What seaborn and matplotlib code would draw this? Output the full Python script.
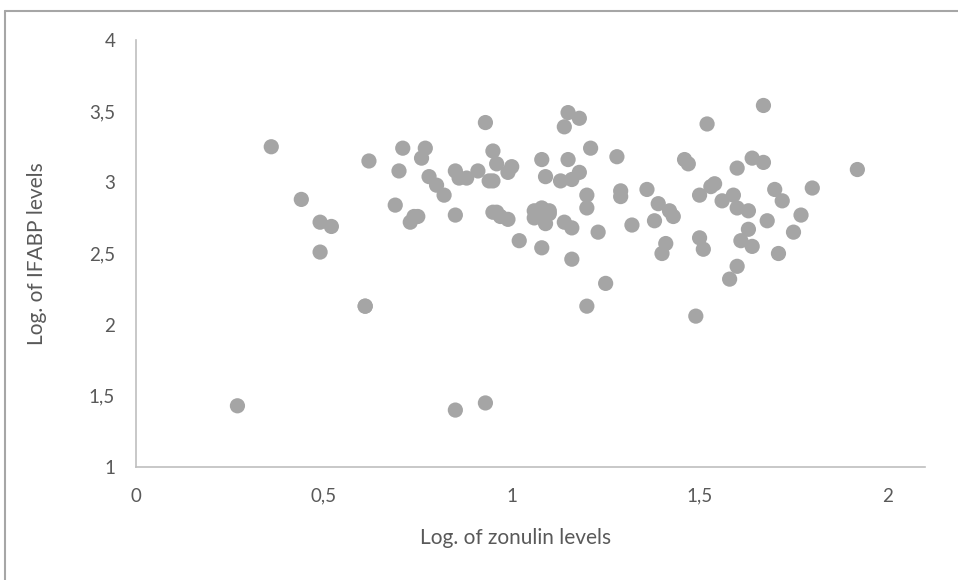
import matplotlib.pyplot as plt
import matplotlib.ticker as mticker
from matplotlib.lines import Line2D
import pandas as pd
import seaborn as sns

# data
zonulin = [
    0.27, 0.36, 0.44, 0.49, 0.49, 0.52, 0.61, 0.62, 0.69, 0.70,
    0.71, 0.73, 0.75, 0.76, 0.77, 0.78, 0.80, 0.82, 0.85, 0.85,
    0.86, 0.88, 0.91, 0.93, 0.94, 0.95, 0.96, 0.96, 0.95, 0.99,
    1.00, 0.95, 0.97, 0.99, 1.02, 1.06, 1.08, 1.07, 1.10, 1.09,
    1.10, 1.06, 1.08, 1.08, 1.09, 1.14, 1.16, 1.16, 1.25, 1.08,
    1.15, 1.18, 1.14, 1.15, 1.21, 1.28, 1.13, 1.16, 1.18, 1.20,
    1.20, 1.20, 1.29, 1.29, 1.32, 1.23, 1.36, 1.38, 1.39, 1.42,
    1.43, 1.41, 1.40, 1.46, 1.47, 1.49, 1.50, 1.51, 1.50, 1.52,
    1.53, 1.54, 1.56, 1.59, 1.60, 1.60, 1.60, 1.61, 1.58, 1.63,
    1.63, 1.64, 1.64, 1.67, 1.67, 1.68, 1.70, 1.72, 1.71, 1.75,
    1.77, 1.80, 1.92, 0.85, 0.93, 0.61, 0.74,
]
ifabp = [
    1.43, 3.25, 2.88, 2.72, 2.51, 2.69, 2.13, 3.15, 2.84, 3.08,
    3.24, 2.72, 2.76, 3.17, 3.24, 3.04, 2.98, 2.91, 3.08, 2.77,
    3.03, 3.03, 3.08, 3.42, 3.01, 3.22, 3.13, 2.79, 2.79, 2.74,
    3.11, 3.01, 2.76, 3.07, 2.59, 2.80, 2.82, 2.76, 2.78, 2.71,
    2.80, 2.75, 2.78, 3.16, 3.04, 2.72, 2.68, 2.46, 2.29, 2.54,
    3.49, 3.45, 3.39, 3.16, 3.24, 3.18, 3.01, 3.02, 3.07, 2.91,
    2.82, 2.13, 2.94, 2.90, 2.70, 2.65, 2.95, 2.73, 2.85, 2.80,
    2.76, 2.57, 2.50, 3.16, 3.13, 2.06, 2.91, 2.53, 2.61, 3.41,
    2.97, 2.99, 2.87, 2.91, 3.10, 2.82, 2.41, 2.59, 2.32, 2.80,
    2.67, 3.17, 2.55, 3.14, 3.54, 2.73, 2.95, 2.87, 2.50, 2.65,
    2.77, 2.96, 3.09, 1.40, 1.45, 2.13, 2.76,
]

df = pd.DataFrame({'zonulin': zonulin, 'ifabp': ifabp})

sns.set_style('white')
plt.rcParams['font.family'] = ['Lato', 'DejaVu Sans']

fig = plt.figure(figsize=(9.58, 5.8), dpi=100)
ax = fig.add_axes([136 / 958, 1 - 467 / 580, (925 - 136) / 958, (467 - 40) / 580])

sns.scatterplot(data=df, x='zonulin', y='ifabp', ax=ax, color='#a5a5a5',
                s=120, edgecolor='none', linewidth=0)

ax.set_xlim(0, 2.1)
ax.set_ylim(1, 4)
ax.xaxis.set_major_locator(mticker.MultipleLocator(0.5))
ax.yaxis.set_major_locator(mticker.MultipleLocator(0.5))
comma = mticker.FuncFormatter(lambda v, p: ('%g' % v).replace('.', ','))
ax.xaxis.set_major_formatter(comma)
ax.yaxis.set_major_formatter(comma)
ax.tick_params(axis='both', length=0, labelsize=13.5, labelcolor='#595959')
ax.tick_params(axis='x', pad=15)
ax.tick_params(axis='y', pad=15)

for side in ['top', 'right']:
    ax.spines[side].set_visible(False)
for side in ['left', 'bottom']:
    ax.spines[side].set_color('#bfbfbf')
    ax.spines[side].set_linewidth(1.2)

ax.set_xlabel('Log. of zonulin levels', fontsize=15, color='#595959')
ax.set_ylabel('Log. of IFABP levels', fontsize=15, color='#595959')
ax.xaxis.set_label_coords((516 - 136) / (925 - 136), -(528 - 467) / 427)
ax.yaxis.set_label_coords(-(136 - 47) / 789, 0.5)

# chart frame (only top and left edges are visible in the reference)
fig.add_artist(Line2D([5 / 958, 1.0], [1 - 11 / 580, 1 - 11 / 580],
                      color='#a6a6a6', linewidth=1.5, transform=fig.transFigure))
fig.add_artist(Line2D([5 / 958, 5 / 958], [0.0, 1 - 11 / 580],
                      color='#a6a6a6', linewidth=1.5, transform=fig.transFigure))

plt.savefig('out.png', dpi=100)
